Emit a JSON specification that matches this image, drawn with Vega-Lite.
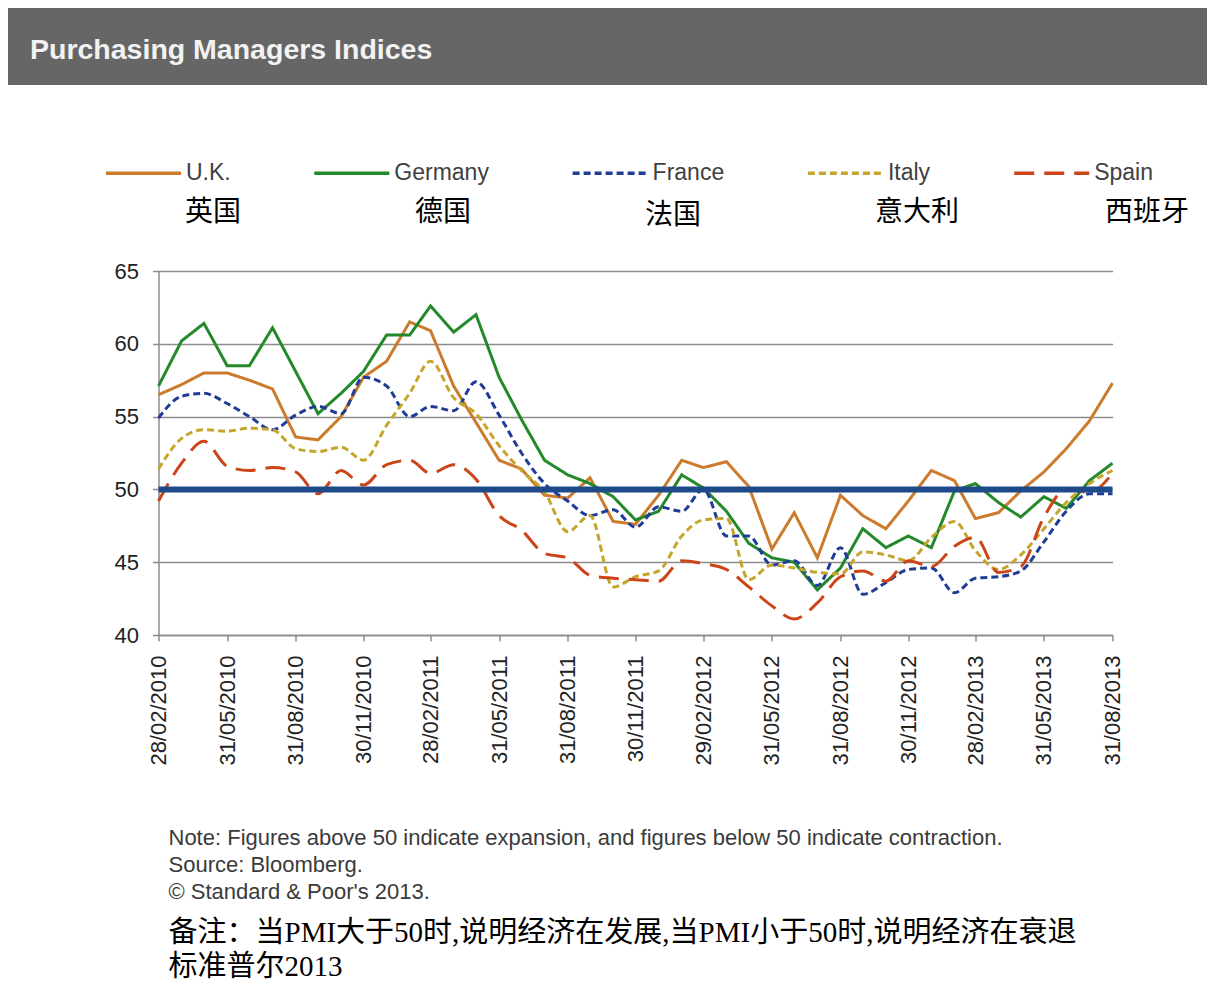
{
  "$schema": "https://vega.github.io/schema/vega-lite/v6.json",
  "background": "white",
  "padding": {"left": 8, "top": 8, "right": 0, "bottom": 0},
  "spacing": 175,
  "config": {"view": {"stroke": null}, "font": "Liberation Sans"},
  "datasets": {
    "names": [
      {"country": "U.K.", "cn": "英国"},
      {"country": "Germany", "cn": "德国"},
      {"country": "France", "cn": "法国"},
      {"country": "Italy", "cn": "意大利"},
      {"country": "Spain", "cn": "西班牙"}
    ],
    "pmi": [
      {"date":"2010-02-28","country":"U.K.","pmi":56.5},{"date":"2010-03-31","country":"U.K.","pmi":57.2},{"date":"2010-04-30","country":"U.K.","pmi":58.0},{"date":"2010-05-31","country":"U.K.","pmi":58.0},{"date":"2010-06-30","country":"U.K.","pmi":57.5},{"date":"2010-07-31","country":"U.K.","pmi":56.9},{"date":"2010-08-31","country":"U.K.","pmi":53.6},{"date":"2010-09-30","country":"U.K.","pmi":53.4},{"date":"2010-10-31","country":"U.K.","pmi":55.0},{"date":"2010-11-30","country":"U.K.","pmi":57.7},{"date":"2010-12-31","country":"U.K.","pmi":58.8},
      {"date":"2011-01-31","country":"U.K.","pmi":61.5},{"date":"2011-02-28","country":"U.K.","pmi":60.9},{"date":"2011-03-31","country":"U.K.","pmi":57.1},{"date":"2011-04-30","country":"U.K.","pmi":54.6},{"date":"2011-05-31","country":"U.K.","pmi":52.0},{"date":"2011-06-30","country":"U.K.","pmi":51.4},{"date":"2011-07-31","country":"U.K.","pmi":49.6},{"date":"2011-08-31","country":"U.K.","pmi":49.4},{"date":"2011-09-30","country":"U.K.","pmi":50.8},{"date":"2011-10-31","country":"U.K.","pmi":47.8},{"date":"2011-11-30","country":"U.K.","pmi":47.6},{"date":"2011-12-31","country":"U.K.","pmi":49.6},
      {"date":"2012-01-31","country":"U.K.","pmi":52.0},{"date":"2012-02-29","country":"U.K.","pmi":51.5},{"date":"2012-03-31","country":"U.K.","pmi":51.9},{"date":"2012-04-30","country":"U.K.","pmi":50.2},{"date":"2012-05-31","country":"U.K.","pmi":45.9},{"date":"2012-06-30","country":"U.K.","pmi":48.4},{"date":"2012-07-31","country":"U.K.","pmi":45.3},{"date":"2012-08-31","country":"U.K.","pmi":49.6},{"date":"2012-09-30","country":"U.K.","pmi":48.2},{"date":"2012-10-31","country":"U.K.","pmi":47.3},{"date":"2012-11-30","country":"U.K.","pmi":49.2},{"date":"2012-12-31","country":"U.K.","pmi":51.3},
      {"date":"2013-01-31","country":"U.K.","pmi":50.6},{"date":"2013-02-28","country":"U.K.","pmi":48.0},{"date":"2013-03-31","country":"U.K.","pmi":48.4},{"date":"2013-04-30","country":"U.K.","pmi":49.9},{"date":"2013-05-31","country":"U.K.","pmi":51.2},{"date":"2013-06-30","country":"U.K.","pmi":52.8},{"date":"2013-07-31","country":"U.K.","pmi":54.7},{"date":"2013-08-31","country":"U.K.","pmi":57.3},

      {"date":"2010-02-28","country":"Germany","pmi":57.1},{"date":"2010-03-31","country":"Germany","pmi":60.2},{"date":"2010-04-30","country":"Germany","pmi":61.4},{"date":"2010-05-31","country":"Germany","pmi":58.5},{"date":"2010-06-30","country":"Germany","pmi":58.5},{"date":"2010-07-31","country":"Germany","pmi":61.1},{"date":"2010-08-31","country":"Germany","pmi":58.1},{"date":"2010-09-30","country":"Germany","pmi":55.2},{"date":"2010-10-31","country":"Germany","pmi":56.6},{"date":"2010-11-30","country":"Germany","pmi":58.1},{"date":"2010-12-31","country":"Germany","pmi":60.6},
      {"date":"2011-01-31","country":"Germany","pmi":60.6},{"date":"2011-02-28","country":"Germany","pmi":62.6},{"date":"2011-03-31","country":"Germany","pmi":60.8},{"date":"2011-04-30","country":"Germany","pmi":62.0},{"date":"2011-05-31","country":"Germany","pmi":57.7},{"date":"2011-06-30","country":"Germany","pmi":54.8},{"date":"2011-07-31","country":"Germany","pmi":52.0},{"date":"2011-08-31","country":"Germany","pmi":51.0},{"date":"2011-09-30","country":"Germany","pmi":50.4},{"date":"2011-10-31","country":"Germany","pmi":49.5},{"date":"2011-11-30","country":"Germany","pmi":47.9},{"date":"2011-12-31","country":"Germany","pmi":48.5},
      {"date":"2012-01-31","country":"Germany","pmi":51.0},{"date":"2012-02-29","country":"Germany","pmi":50.1},{"date":"2012-03-31","country":"Germany","pmi":48.5},{"date":"2012-04-30","country":"Germany","pmi":46.3},{"date":"2012-05-31","country":"Germany","pmi":45.3},{"date":"2012-06-30","country":"Germany","pmi":45.0},{"date":"2012-07-31","country":"Germany","pmi":43.1},{"date":"2012-08-31","country":"Germany","pmi":44.6},{"date":"2012-09-30","country":"Germany","pmi":47.3},{"date":"2012-10-31","country":"Germany","pmi":46.0},{"date":"2012-11-30","country":"Germany","pmi":46.8},{"date":"2012-12-31","country":"Germany","pmi":46.0},
      {"date":"2013-01-31","country":"Germany","pmi":49.9},{"date":"2013-02-28","country":"Germany","pmi":50.4},{"date":"2013-03-31","country":"Germany","pmi":49.1},{"date":"2013-04-30","country":"Germany","pmi":48.1},{"date":"2013-05-31","country":"Germany","pmi":49.5},{"date":"2013-06-30","country":"Germany","pmi":48.7},{"date":"2013-07-31","country":"Germany","pmi":50.6},{"date":"2013-08-31","country":"Germany","pmi":51.8},

      {"date":"2010-02-28","country":"France","pmi":54.9},{"date":"2010-03-31","country":"France","pmi":56.4},{"date":"2010-04-30","country":"France","pmi":56.6},{"date":"2010-05-31","country":"France","pmi":55.9},{"date":"2010-06-30","country":"France","pmi":55.0},{"date":"2010-07-31","country":"France","pmi":54.1},{"date":"2010-08-31","country":"France","pmi":55.1},{"date":"2010-09-30","country":"France","pmi":55.7},{"date":"2010-10-31","country":"France","pmi":55.2},{"date":"2010-11-30","country":"France","pmi":57.7},{"date":"2010-12-31","country":"France","pmi":57.1},
      {"date":"2011-01-31","country":"France","pmi":55.0},{"date":"2011-02-28","country":"France","pmi":55.7},{"date":"2011-03-31","country":"France","pmi":55.4},{"date":"2011-04-30","country":"France","pmi":57.4},{"date":"2011-05-31","country":"France","pmi":55.1},{"date":"2011-06-30","country":"France","pmi":52.5},{"date":"2011-07-31","country":"France","pmi":50.4},{"date":"2011-08-31","country":"France","pmi":49.2},{"date":"2011-09-30","country":"France","pmi":48.2},{"date":"2011-10-31","country":"France","pmi":48.6},{"date":"2011-11-30","country":"France","pmi":47.4},{"date":"2011-12-31","country":"France","pmi":48.8},
      {"date":"2012-01-31","country":"France","pmi":48.5},{"date":"2012-02-29","country":"France","pmi":50.0},{"date":"2012-03-31","country":"France","pmi":46.8},{"date":"2012-04-30","country":"France","pmi":46.8},{"date":"2012-05-31","country":"France","pmi":44.8},{"date":"2012-06-30","country":"France","pmi":45.1},{"date":"2012-07-31","country":"France","pmi":43.4},{"date":"2012-08-31","country":"France","pmi":46.0},{"date":"2012-09-30","country":"France","pmi":42.8},{"date":"2012-10-31","country":"France","pmi":43.6},{"date":"2012-11-30","country":"France","pmi":44.5},{"date":"2012-12-31","country":"France","pmi":44.6},
      {"date":"2013-01-31","country":"France","pmi":42.9},{"date":"2013-02-28","country":"France","pmi":43.9},{"date":"2013-03-31","country":"France","pmi":44.0},{"date":"2013-04-30","country":"France","pmi":44.4},{"date":"2013-05-31","country":"France","pmi":46.4},{"date":"2013-06-30","country":"France","pmi":48.5},{"date":"2013-07-31","country":"France","pmi":49.7},{"date":"2013-08-31","country":"France","pmi":49.7},

      {"date":"2010-02-28","country":"Italy","pmi":51.4},{"date":"2010-03-31","country":"Italy","pmi":53.5},{"date":"2010-04-30","country":"Italy","pmi":54.1},{"date":"2010-05-31","country":"Italy","pmi":54.0},{"date":"2010-06-30","country":"Italy","pmi":54.2},{"date":"2010-07-31","country":"Italy","pmi":54.1},{"date":"2010-08-31","country":"Italy","pmi":52.8},{"date":"2010-09-30","country":"Italy","pmi":52.6},{"date":"2010-10-31","country":"Italy","pmi":52.9},{"date":"2010-11-30","country":"Italy","pmi":52.0},{"date":"2010-12-31","country":"Italy","pmi":54.4},
      {"date":"2011-01-31","country":"Italy","pmi":56.6},{"date":"2011-02-28","country":"Italy","pmi":58.8},{"date":"2011-03-31","country":"Italy","pmi":56.3},{"date":"2011-04-30","country":"Italy","pmi":55.2},{"date":"2011-05-31","country":"Italy","pmi":53.0},{"date":"2011-06-30","country":"Italy","pmi":51.3},{"date":"2011-07-31","country":"Italy","pmi":49.8},{"date":"2011-08-31","country":"Italy","pmi":47.1},{"date":"2011-09-30","country":"Italy","pmi":48.2},{"date":"2011-10-31","country":"Italy","pmi":43.3},{"date":"2011-11-30","country":"Italy","pmi":44.0},{"date":"2011-12-31","country":"Italy","pmi":44.4},
      {"date":"2012-01-31","country":"Italy","pmi":46.8},{"date":"2012-02-29","country":"Italy","pmi":47.9},{"date":"2012-03-31","country":"Italy","pmi":48.0},{"date":"2012-04-30","country":"Italy","pmi":43.8},{"date":"2012-05-31","country":"Italy","pmi":44.8},{"date":"2012-06-30","country":"Italy","pmi":44.6},{"date":"2012-07-31","country":"Italy","pmi":44.3},{"date":"2012-08-31","country":"Italy","pmi":44.2},{"date":"2012-09-30","country":"Italy","pmi":45.7},{"date":"2012-10-31","country":"Italy","pmi":45.5},{"date":"2012-11-30","country":"Italy","pmi":45.1},{"date":"2012-12-31","country":"Italy","pmi":46.7},
      {"date":"2013-01-31","country":"Italy","pmi":47.8},{"date":"2013-02-28","country":"Italy","pmi":45.8},{"date":"2013-03-31","country":"Italy","pmi":44.5},{"date":"2013-04-30","country":"Italy","pmi":45.5},{"date":"2013-05-31","country":"Italy","pmi":47.3},{"date":"2013-06-30","country":"Italy","pmi":49.1},{"date":"2013-07-31","country":"Italy","pmi":50.4},{"date":"2013-08-31","country":"Italy","pmi":51.3},

      {"date":"2010-02-28","country":"Spain","pmi":49.2},{"date":"2010-03-31","country":"Spain","pmi":51.8},{"date":"2010-04-30","country":"Spain","pmi":53.3},{"date":"2010-05-31","country":"Spain","pmi":51.6},{"date":"2010-06-30","country":"Spain","pmi":51.3},{"date":"2010-07-31","country":"Spain","pmi":51.5},{"date":"2010-08-31","country":"Spain","pmi":51.2},{"date":"2010-09-30","country":"Spain","pmi":49.7},{"date":"2010-10-31","country":"Spain","pmi":51.3},{"date":"2010-11-30","country":"Spain","pmi":50.3},{"date":"2010-12-31","country":"Spain","pmi":51.7},
      {"date":"2011-01-31","country":"Spain","pmi":52.0},{"date":"2011-02-28","country":"Spain","pmi":51.1},{"date":"2011-03-31","country":"Spain","pmi":51.7},{"date":"2011-04-30","country":"Spain","pmi":50.7},{"date":"2011-05-31","country":"Spain","pmi":48.2},{"date":"2011-06-30","country":"Spain","pmi":47.2},{"date":"2011-07-31","country":"Spain","pmi":45.6},{"date":"2011-08-31","country":"Spain","pmi":45.3},{"date":"2011-09-30","country":"Spain","pmi":44.1},{"date":"2011-10-31","country":"Spain","pmi":43.9},{"date":"2011-11-30","country":"Spain","pmi":43.8},{"date":"2011-12-31","country":"Spain","pmi":43.7},
      {"date":"2012-01-31","country":"Spain","pmi":45.1},{"date":"2012-02-29","country":"Spain","pmi":44.9},{"date":"2012-03-31","country":"Spain","pmi":44.5},{"date":"2012-04-30","country":"Spain","pmi":43.3},{"date":"2012-05-31","country":"Spain","pmi":42.0},{"date":"2012-06-30","country":"Spain","pmi":41.1},{"date":"2012-07-31","country":"Spain","pmi":42.2},{"date":"2012-08-31","country":"Spain","pmi":44.0},{"date":"2012-09-30","country":"Spain","pmi":44.4},{"date":"2012-10-31","country":"Spain","pmi":43.7},{"date":"2012-11-30","country":"Spain","pmi":45.1},{"date":"2012-12-31","country":"Spain","pmi":44.7},
      {"date":"2013-01-31","country":"Spain","pmi":46.1},{"date":"2013-02-28","country":"Spain","pmi":46.7},{"date":"2013-03-31","country":"Spain","pmi":44.3},{"date":"2013-04-30","country":"Spain","pmi":44.7},{"date":"2013-05-31","country":"Spain","pmi":48.1},{"date":"2013-06-30","country":"Spain","pmi":50.0},{"date":"2013-07-31","country":"Spain","pmi":49.8},{"date":"2013-08-31","country":"Spain","pmi":51.1}
    ]
  },
  "vconcat": [
    {
      "width": 1199,
      "height": 77,
      "view": {"fill": "#666666", "stroke": null},
      "data": {"values": []},
      "mark": {"type": "point", "opacity": 0},
      "title": {
        "text": "Purchasing Managers Indices",
        "orient": "top",
        "anchor": "start",
        "frame": "group",
        "offset": -79.5,
        "dx": 22,
        "baseline": "alphabetic",
        "font": "Liberation Sans",
        "fontSize": 28.5,
        "fontWeight": "bold",
        "color": "#f2f2f2"
      }
    },
    {
      "spacing": 5.5,
      "hconcat": [
        {
          "width": 100,
          "height": 10,
          "data": {"values": []},
          "mark": {"type": "point", "opacity": 0}
        },
        {
          "width": 954,
          "height": 364,
          "data": {"name": "pmi"},
          "title": {
            "text": ["Note: Figures above 50 indicate expansion, and figures below 50 indicate contraction.", "Source: Bloomberg.", "© Standard & Poor's 2013."],
            "subtitle": ["备注：当PMI大于50时,说明经济在发展,当PMI小于50时,说明经济在衰退", "标准普尔2013"],
            "orient": "bottom",
            "anchor": "start",
            "frame": "group",
            "align": "left",
            "dx": 10,
            "offset": 63,
            "font": "Liberation Sans",
            "fontSize": 22,
            "fontWeight": "normal",
            "color": "#3a3a3a",
            "lineHeight": 27,
            "subtitleFont": "Liberation Serif, Noto Sans CJK SC",
            "subtitleFontSize": 29,
            "subtitleColor": "#000000",
            "subtitleLineHeight": 34,
            "subtitlePadding": 15
          },
          "layer": [
            {
              "transform": [{"filter": {"field": "country", "oneOf": ["U.K.", "Germany"]}}],
              "mark": {"type": "line", "strokeWidth": 3, "interpolate": "linear"},
              "encoding": {
                "x": {
                  "field": "date", "type": "temporal",
                  "scale": {"type": "utc", "nice": false, "domain": [{"year": 2010, "month": 2, "date": 28, "utc": true}, {"year": 2013, "month": 8, "date": 31, "utc": true}]},
                  "axis": {
                    "title": null,
                    "values": [
                      {"year": 2010, "month": 2, "date": 28, "utc": true}, {"year": 2010, "month": 5, "date": 31, "utc": true}, {"year": 2010, "month": 8, "date": 31, "utc": true}, {"year": 2010, "month": 11, "date": 30, "utc": true},
                      {"year": 2011, "month": 2, "date": 28, "utc": true}, {"year": 2011, "month": 5, "date": 31, "utc": true}, {"year": 2011, "month": 8, "date": 31, "utc": true}, {"year": 2011, "month": 11, "date": 30, "utc": true},
                      {"year": 2012, "month": 2, "date": 29, "utc": true}, {"year": 2012, "month": 5, "date": 31, "utc": true}, {"year": 2012, "month": 8, "date": 31, "utc": true}, {"year": 2012, "month": 11, "date": 30, "utc": true},
                      {"year": 2013, "month": 2, "date": 28, "utc": true}, {"year": 2013, "month": 5, "date": 31, "utc": true}, {"year": 2013, "month": 8, "date": 31, "utc": true}
                    ],
                    "format": "%d/%m/%Y",
                    "labelAngle": -90,
                    "labelFontSize": 22,
                    "labelFont": "Liberation Sans",
                    "labelColor": "#222222",
                    "labelPadding": 14,
                    "labelFlush": false,
                    "labelOverlap": false,
                    "tickSize": 6,
                    "tickColor": "#8c8c8c",
                    "tickWidth": 1.5,
                    "domainColor": "#8c8c8c",
                    "domainWidth": 1.5,
                    "grid": false
                  }
                },
                "y": {
                  "field": "pmi", "type": "quantitative",
                  "title": null,
                  "scale": {"domain": [40, 65], "nice": false, "zero": false},
                  "axis": {
                    "values": [40, 45, 50, 55, 60, 65],
                    "grid": true,
                    "gridColor": "#8c8c8c",
                    "gridWidth": 1.5,
                    "domainColor": "#8c8c8c",
                    "domainWidth": 1.5,
                    "tickColor": "#8c8c8c",
                    "tickWidth": 1.5,
                    "tickSize": 6,
                    "labelFontSize": 22,
                    "labelFont": "Liberation Sans",
                    "labelColor": "#222222",
                    "labelPadding": 14
                  }
                },
                "color": {
                  "field": "country", "type": "nominal",
                  "scale": {"domain": ["U.K.", "Germany", "France", "Italy", "Spain"], "range": ["#cc7a2b", "#23892a", "#1f3c96", "#c6a52c", "#cc4418"]},
                  "legend": {"orient": "none", "legendX": 96, "legendY": 125.5, "direction": "horizontal", "columns": 5, "title": null, "symbolType": "stroke", "symbolSize": 5625, "symbolStrokeWidth": 3.5, "labelFontSize": 23, "labelFont": "Liberation Sans", "labelColor": "#404040", "labelOffset": 3, "columnPadding": 76.3, "gridAlign": "each"}
                },
                "strokeDash": {
                  "field": "country", "type": "nominal",
                  "scale": {"domain": ["U.K.", "Germany", "France", "Italy", "Spain"], "range": [[1, 0], [1, 0], [7, 4], [7, 4], [20, 10]]},
                  "legend": {"orient": "none", "legendX": 96, "legendY": 125.5, "direction": "horizontal", "columns": 5, "title": null, "symbolType": "stroke", "symbolSize": 5625, "symbolStrokeWidth": 3.5, "labelFontSize": 23, "labelFont": "Liberation Sans", "labelColor": "#404040", "labelOffset": 3, "columnPadding": 76.3, "gridAlign": "each"}
                }
              }
            },
            {
              "transform": [{"filter": {"field": "country", "oneOf": ["France", "Italy", "Spain"]}}],
              "mark": {"type": "line", "strokeWidth": 3, "interpolate": "monotone"},
              "encoding": {
                "x": {"field": "date", "type": "temporal"},
                "y": {"field": "pmi", "type": "quantitative", "title": null},
                "color": {"field": "country", "type": "nominal"},
                "strokeDash": {"field": "country", "type": "nominal"}
              }
            },
            {
              "data": {"values": [{"level": 50}]},
              "mark": {"type": "rule", "color": "#1f4a8a", "strokeWidth": 6},
              "encoding": {
                "y": {"field": "level", "type": "quantitative", "title": null}
              }
            },
            {
              "data": {"name": "names"},
              "mark": {"type": "point", "opacity": 0},
              "encoding": {
                "shape": {
                  "field": "cn", "type": "nominal",
                  "scale": {"domain": ["英国", "德国", "法国", "意大利", "西班牙"]},
                  "legend": {"orient": "none", "legendX": 95, "legendY": 166.5, "direction": "horizontal", "columns": 5, "title": null, "symbolOpacity": 0, "symbolSize": 5625, "labelFontSize": 28, "labelFont": "Liberation Serif, Noto Sans CJK SC", "labelColor": "#000000", "labelOffset": 5, "columnPadding": 63, "gridAlign": "all"}
                }
              }
            }
          ]
        }
      ]
    }
  ]
}
